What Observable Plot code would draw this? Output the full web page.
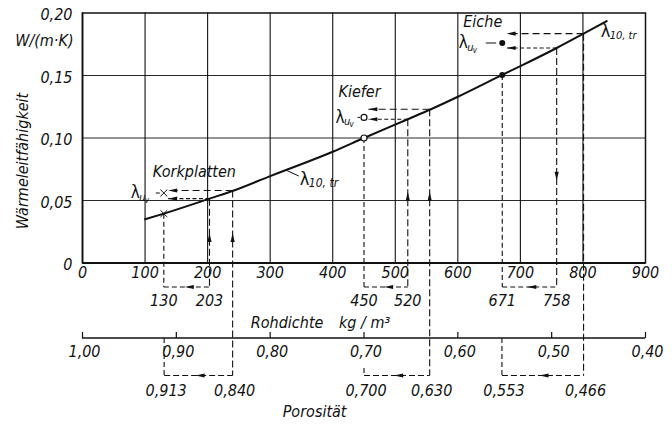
<!DOCTYPE html>
<html>
<head>
<meta charset="utf-8">
<script src="https://cdn.jsdelivr.net/npm/d3@7"></script>
<script src="https://cdn.jsdelivr.net/npm/@observablehq/plot@0.6"></script>
<style>
  body { margin: 0; background: #fff; }
</style>
</head>
<body>
<div id="chart"></div>
<script>
// Axis ticks
const densityTicks = [0, 100, 200, 300, 400, 500, 600, 700, 800, 900];      // Rohdichte, kg/m³
const conductivityTicks = [0, 0.05, 0.10, 0.15, 0.20];                      // W/(m·K)
const porosityTicks = [1.00, 0.90, 0.80, 0.70, 0.60, 0.50, 0.40];

// λ10,tr of the dry material over the bulk density
const curveDensity =      [100,    130,    203,    242,   300,    400,    450,   520,   557,   600,   671,    700,    758,   801,    838];
const curveConductivity = [0.0350, 0.0395, 0.0515, 0.058, 0.0695, 0.0890, 0.100, 0.115, 0.123, 0.133, 0.1505, 0.1575, 0.172, 0.1835, 0.1935];

// Worked examples
const materials = ["Korkplatten", "Kiefer", "Eiche"];
const densityDry = [130, 450, 671];
const densityMoist = [203, 520, 758];
const porosityDry = [0.913, 0.700, 0.553];
const porosityEquivalent = [0.840, 0.630, 0.466];
const conductivityDry = [0.0395, 0.100, 0.1505];
const conductivityMoist = [0.0515, 0.115, 0.172];
const conductivityEquivalent = [0.058, 0.123, 0.1835];
const conductivityUV = [0.056, 0.1165, 0.176];

// density of the solid cell wall substance: porosity = 1 - ρ / ρ0
const SOLID_DENSITY = 1500;

// ---- layout ----
const W = 672, H = 425;
const margin = {top: 12.5, right: 27, bottom: 162.5, left: 82};
const X_MAX = 900, Y_MAX = 0.20;
const innerW = W - margin.left - margin.right;
const innerH = H - margin.top - margin.bottom;
const uPerPx = X_MAX / innerW;          // density units per pixel
const lPerPx = Y_MAX / innerH;          // conductivity units per pixel
const below = px => -px * lPerPx;       // position px pixels under the zero line
const rho = p => SOLID_DENSITY * (1 - p);
const comma = (v, d) => v.toFixed(d).replace(".", ",");

// rows under the plot, in pixels below the zero line
const ROW = {densityBox: 24, densityLabel: 37.5, densityTitle: 59.5, porosityAxis: 75,
             porosityLabel: 89, porosityBox: 112.5, porosityValue: 128, porosityTitle: 149};

// label placement per example (pixel offsets from the λuv marker)
const place = {
  Korkplatten: {nameDx: -11,   nameDy: -21,   lamDx: -33,   lead: [-8, -4],    arrowAt: 0.024, up: true,  eqArrow: true},
  Kiefer:      {nameDx: -25.5, nameDy: -26,   lamDx: -28.5, lead: [-6.5, -4],  arrowAt: 0.057, up: true,  eqArrow: true},
  Eiche:       {nameDx: -39,   nameDy: -21.5, lamDx: -43.5, lead: [-16.5, -6], arrowAt: 0.073, up: false, eqArrow: false}
};

const curve = curveDensity.map((x, i) => ({x, y: curveConductivity[i]}));
const table = materials.map((name, i) => ({
  name,
  dry: densityDry[i], moist: densityMoist[i],
  pDry: porosityDry[i], pEq: porosityEquivalent[i], eq: rho(porosityEquivalent[i]),
  lDry: conductivityDry[i], lMoist: conductivityMoist[i], lEq: conductivityEquivalent[i], lUV: conductivityUV[i],
  ...place[name]
}));

// pixel offsets expressed in data units
const offX = (x, px) => x + px * uPerPx;
const offY = (y, px) => y - px * lPerPx;   // positive px = downwards

// horizontal arrows end just right of the λuv marker
const tipX = d => d.dry + 7;
const boxTip = (a, b) => a + 0.46 * (b - a);

// a point on the curve for the middle λ10,tr label
const labelDensity = 325;
const labelConductivity = d3.scaleLinear(curveDensity, curveConductivity)(labelDensity);
const curveEnd = curve[curve.length - 1];

const ink = "#111";
const font = "'Liberation Sans Narrow', 'DejaVu Sans Condensed', 'Roboto Condensed', 'Liberation Sans', sans-serif";

const dash = {stroke: ink, strokeWidth: 1.1};
const head = {shape: "spike", r: 2.1, length: 9, anchor: "end", fill: ink, stroke: "none"};

const chart = Plot.plot({
  width: W, height: H,
  marginTop: margin.top, marginRight: margin.right, marginBottom: margin.bottom, marginLeft: margin.left,
  x: {domain: [0, X_MAX]},
  y: {domain: [0, Y_MAX]},
  style: {fontFamily: font, fontSize: "16px", fontStyle: "italic", color: ink, background: "#fff", overflow: "visible"},
  marks: [
    // grid
    Plot.ruleX(densityTicks.slice(1, -1), {y1: 0, y2: Y_MAX, stroke: ink, strokeWidth: 1.1}),
    Plot.ruleY(conductivityTicks.slice(1, -1), {x1: 0, x2: X_MAX, stroke: ink, strokeWidth: 0.9}),
    Plot.frame({stroke: ink, strokeWidth: 1.5}),
    Plot.ruleY([0], {x1: 0, x2: X_MAX, stroke: ink, strokeWidth: 2}),
    Plot.ruleX([0], {y1: 0, y2: Y_MAX, stroke: ink, strokeWidth: 1.6}),

    // axes
    Plot.axisX({ticks: densityTicks, tickSize: 0, tickPadding: 4, label: null, fontSize: 16, tickFormat: d => String(d)}),
    Plot.axisY({ticks: conductivityTicks, tickSize: 0, tickPadding: 10, label: null, fontSize: 16, dy: 2,
                tickFormat: d => d === 0 ? "0" : comma(d, 2)}),
    Plot.text(["W/(m·K)"], {frameAnchor: "left", y: 0.178, dx: -9, textAnchor: "end", fontSize: 16}),
    Plot.text(["Wärmeleitfähigkeit"], {frameAnchor: "left", y: 0.0816, dx: -60, rotate: -90, textAnchor: "middle", fontSize: 16}),

    // λ10,tr curve
    Plot.line(curve, {x: "x", y: "y", curve: "monotone-x", stroke: ink, strokeWidth: 2}),
    Plot.link([{x: labelDensity, y: labelConductivity}], {
      x1: "x", y1: "y", x2: d => offX(d.x, 13), y2: d => offY(d.y, 6), stroke: ink, strokeWidth: 1}),
    Plot.text([{x: labelDensity, y: labelConductivity}], {x: "x", y: "y", text: () => "λ", dx: 14, dy: 9, textAnchor: "start", fontSize: 18, fontStyle: "normal"}),
    Plot.text([{x: labelDensity, y: labelConductivity}], {x: "x", y: "y", text: () => "10, tr", dx: 23, dy: 13, textAnchor: "start", fontSize: 12}),
    Plot.text([curveEnd], {x: "x", y: "y", text: () => "λ", dx: -6, dy: 10, textAnchor: "start", fontSize: 18, fontStyle: "normal"}),
    Plot.text([curveEnd], {x: "x", y: "y", text: () => "10, tr", dx: 3, dy: 14, textAnchor: "start", fontSize: 11}),

    // verticals from the curve down to the Rohdichte row
    Plot.link(table, {x1: "dry", x2: "dry", y1: "lDry", y2: below(ROW.densityBox), ...dash, strokeDasharray: "5,3"}),
    Plot.link(table, {x1: "moist", x2: "moist", y1: "lMoist", y2: below(ROW.densityBox), ...dash, strokeDasharray: "7,3"}),
    Plot.link(table, {x1: "dry", x2: "moist", y1: below(ROW.densityBox), y2: below(ROW.densityBox), ...dash, strokeDasharray: "5,3"}),
    Plot.vector(table, {x: d => boxTip(d.dry, d.moist), y: below(ROW.densityBox), rotate: 270, ...head}),

    // verticals from the curve down to the porosity row
    Plot.link(table, {x1: "eq", x2: "eq", y1: "lEq", y2: below(ROW.porosityBox), ...dash, strokeDasharray: "7,3"}),
    Plot.link(table, {
      x1: d => rho(d.pDry), x2: d => rho(d.pDry),
      y1: d => below(porosityTicks.some(t => Math.abs(t - d.pDry) < 1e-9) ? ROW.porosityLabel + 16 : ROW.porosityAxis),
      y2: below(ROW.porosityBox), ...dash, strokeDasharray: "5,3"}),
    Plot.link(table, {x1: d => rho(d.pDry), x2: "eq", y1: below(ROW.porosityBox), y2: below(ROW.porosityBox), ...dash, strokeDasharray: "6,3"}),
    Plot.vector(table, {x: d => boxTip(rho(d.pDry), d.eq), y: below(ROW.porosityBox), rotate: 270, ...head}),

    // arrows on the vertical lines
    Plot.vector(table, {x: "moist", y: d => d.up ? d.arrowAt : offY(d.arrowAt, 9), rotate: d => d.up ? 0 : 180, ...head}),
    Plot.vector(table.filter(d => d.eqArrow), {x: "eq", y: "arrowAt", rotate: 0, ...head}),

    // horizontal read-off lines towards λuv
    Plot.link(table, {x1: "eq", x2: tipX, y1: "lEq", y2: "lEq", ...dash, strokeDasharray: "7,4"}),
    Plot.link(table, {x1: "moist", x2: tipX, y1: "lMoist", y2: "lMoist", ...dash, strokeDasharray: "4,2.5"}),
    Plot.vector(table, {x: tipX, y: "lEq", rotate: 270, ...head}),
    Plot.vector(table, {x: tipX, y: "lMoist", rotate: 270, ...head}),

    // markers on the curve and at λuv
    Plot.dot(table.filter(d => d.name === "Korkplatten"), {x: "dry", y: "lDry", symbol: "times", r: 3.2, stroke: ink, strokeWidth: 1}),
    Plot.dot(table.filter(d => d.name === "Korkplatten"), {x: "dry", y: "lUV", symbol: "times", r: 3.2, stroke: ink, strokeWidth: 1}),
    Plot.dot(table.filter(d => d.name === "Kiefer"), {x: "dry", y: "lDry", r: 3, fill: "#fff", stroke: ink, strokeWidth: 1.2}),
    Plot.dot(table.filter(d => d.name === "Kiefer"), {x: "dry", y: "lUV", r: 3, fill: "#fff", stroke: ink, strokeWidth: 1.2}),
    Plot.dot(table.filter(d => d.name === "Eiche"), {x: "dry", y: "lDry", r: 3, fill: ink}),
    Plot.dot(table.filter(d => d.name === "Eiche"), {x: "dry", y: "lUV", r: 3, fill: ink}),

    // λuv labels with leader
    Plot.link(table, {x1: d => offX(d.dry, d.lead[0]), x2: d => offX(d.dry, d.lead[1]), y1: "lUV", y2: "lUV", stroke: ink, strokeWidth: 1}),
    Plot.text(table, {x: d => offX(d.dry, d.lamDx), y: "lUV", text: () => "λ", textAnchor: "start", fontSize: 17, fontStyle: "normal"}),
    Plot.text(table, {x: d => offX(d.dry, d.lamDx + 8.5), y: d => offY(d.lUV, 4), text: () => "u", textAnchor: "start", fontSize: 11}),
    Plot.text(table, {x: d => offX(d.dry, d.lamDx + 14), y: d => offY(d.lUV, 7), text: () => "v", textAnchor: "start", fontSize: 8}),

    // material names
    Plot.text(table, {x: d => offX(d.dry, d.nameDx), y: d => offY(d.lUV, d.nameDy), text: "name", textAnchor: "start", fontSize: 16}),

    // Rohdichte values and title
    Plot.text(table, {x: "dry", y: below(ROW.densityLabel), text: d => String(d.dry), fontSize: 16}),
    Plot.text(table, {x: "moist", y: below(ROW.densityLabel), text: d => String(d.moist), fontSize: 16}),
    Plot.text(["Rohdichte"], {x: 269, y: below(ROW.densityTitle), textAnchor: "start", fontSize: 16}),
    Plot.text(["kg / m³"], {x: 410, y: below(ROW.densityTitle), textAnchor: "start", fontSize: 16}),

    // porosity axis
    Plot.ruleY([below(ROW.porosityAxis)], {x1: rho(porosityTicks[0]), x2: rho(porosityTicks[porosityTicks.length - 1]), stroke: ink, strokeWidth: 1.5}),
    Plot.link(porosityTicks, {x1: rho, x2: rho, y1: below(ROW.porosityAxis), y2: below(ROW.porosityAxis - 6), stroke: ink, strokeWidth: 1.2}),
    Plot.text(porosityTicks, {x: rho, y: below(ROW.porosityLabel), text: p => comma(p, 2), dx: 2, fontSize: 16}),
    Plot.text(table, {x: d => rho(d.pDry), y: below(ROW.porosityValue), text: d => comma(d.pDry, 3), dx: 2, fontSize: 16}),
    Plot.text(table, {x: "eq", y: below(ROW.porosityValue), text: d => comma(d.pEq, 3), dx: 2, fontSize: 16}),
    Plot.text(["Porosität"], {x: 320, y: below(ROW.porosityTitle), textAnchor: "start", fontSize: 16})
  ]
});

document.getElementById("chart").append(chart);
</script>
</body>
</html>
